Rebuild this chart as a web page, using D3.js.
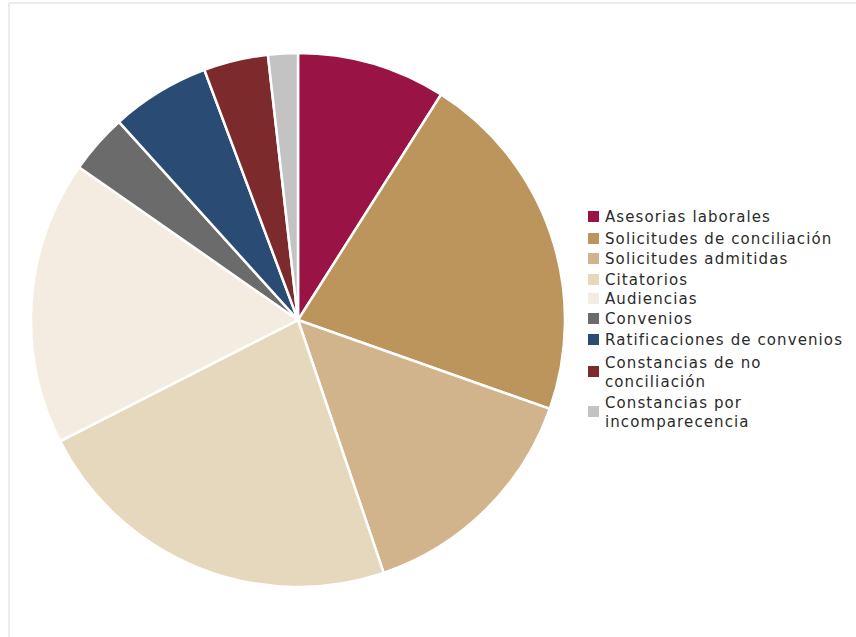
<!DOCTYPE html>
<html><head><meta charset="utf-8">
<script src="https://cdn.jsdelivr.net/npm/d3@7"></script>
<style>body{margin:0;background:#fff}svg{display:block}</style>
</head><body>
<svg id="c" width="856" height="637"></svg>
<script>
const categories = [["Asesorias laborales"],["Solicitudes de conciliación"],["Solicitudes admitidas"],["Citatorios"],["Audiencias"],["Convenios"],["Ratificaciones de convenios"],["Constancias de no","conciliación"],["Constancias por","incomparecencia"]];
const values = [9.0, 21.4, 14.4, 22.7, 17.2, 3.6, 6.0, 3.9, 1.8];
const colors = ["#9a1345","#bc955c","#d1b48b","#e6d8bc","#f4ece0","#6b6b6b","#2a4b73","#7c2a2b","#c3c3c3"];

const svg = d3.select("#c");
svg.append("line").attr("x1",9).attr("x2",9).attr("y1",3).attr("y2",637).attr("stroke","#ececec").attr("stroke-width",2);
svg.append("line").attr("x1",9).attr("x2",856).attr("y1",3).attr("y2",3).attr("stroke","#ececec").attr("stroke-width",2);

const pie = d3.pie().sort(null).value(d=>d);
const arc = d3.arc().innerRadius(0).outerRadius(267);
const g = svg.append("g").attr("transform","translate(298,320)");
g.selectAll("path").data(pie(values)).join("path")
  .attr("d",arc).attr("fill",(d,i)=>colors[i]).attr("stroke","#fff").attr("stroke-width",2.5);

const lg = svg.append("g").attr("font-family","DejaVu Sans, sans-serif").attr("font-size",15).attr("letter-spacing",1.1).attr("fill","#2b2b2b");
const rowY = [217,239,259,280,299,319,340,372,412];
categories.forEach((lines,i)=>{
  const y = rowY[i];
  lg.append("rect").attr("x",588).attr("y",y-6).attr("width",11).attr("height",11).attr("fill",colors[i]);
  const t = lg.append("text").attr("x",605).attr("y",lines.length>1? y-9+5 : y+5);
  lines.forEach((l,j)=>t.append("tspan").attr("x",605).attr("dy",j==0?0:19).text(l));
});
</script>
</body></html>
